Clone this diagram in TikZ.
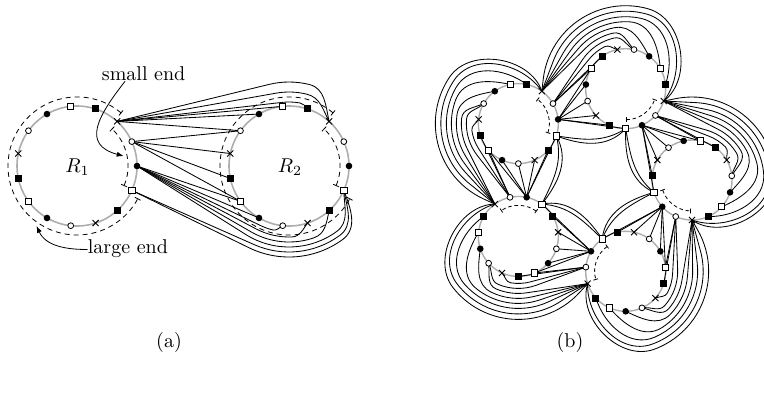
\documentclass[tikz,border=0pt]{standalone}
\usetikzlibrary{arrows.meta,shapes.misc}
\newcommand\setupcircle[5]{%
  \foreach \kk in {0,...,14}{%
    \pgfmathsetmacro\mx{#2+#5*cos(#4+24*\kk)}%
    \pgfmathsetmacro\my{#3+#5*sin(#4+24*\kk)}%
    \coordinate (#1-\kk) at (\mx,\my);%
    \expandafter\xdef\csname px@#1-\kk\endcsname{\mx}%
    \expandafter\xdef\csname py@#1-\kk\endcsname{\my}%
  }}
\newcommand\drawmarkers[1]{%
  \foreach \kk in {0,...,14}{%
    \pgfmathtruncatemacro\ty{mod(\kk,5)}%
    \edef\tmp{\noexpand\node[mk\ty] at (#1-\kk) {};}%
    \tmp
  }}
% #1 Bcx #2 Bcy #3 thetaB #4 Bprefix #5 k #6 src #7 L #8 delta #9 eps ; \ldir = +-1
\newcommand\lane[9]{%
  \pgfmathsetmacro\lb{#3+24*#5}%
  \pgfmathsetmacro\lsx{\csname px@#6\endcsname}%
  \pgfmathsetmacro\lsy{\csname py@#6\endcsname}%
  \pgfmathsetmacro\ldx{\lsx-(#1)}%
  \pgfmathsetmacro\ldy{\lsy-(#2)}%
  \pgfmathsetmacro\ld{veclen(\ldx,\ldy)}%
  \pgfmathsetmacro\lap{atan2(\ldy,\ldx)}%
  \pgfmathsetmacro\lal{\lap+(\ldir)*acos(#7/\ld)}%
  \pgfmathsetmacro\ldf{(\ldir)*((\lb-(\ldir)*(#8))-\lal)}%
  \pgfmathsetmacro\ldf{\ldf-360*floor(\ldf/360)}%
  \pgfmathsetmacro\lgb{\lal+(\ldir)*\ldf}%
  \pgfmathsetmacro\lout{\lgb+(\ldir)*90}%
  \pgfmathsetmacro\lin{\lb-(\ldir)*(#9)}%
  \pgfmathsetmacro\lpx{#1+#7*cos(\lal)}%
  \pgfmathsetmacro\lpy{#2+#7*sin(\lal)}%
  \draw[conn] (#6) -- (\lpx,\lpy) arc[start angle=\lal,end angle=\lgb,radius=#7] to[out=\lout,in=\lin] (#4-#5);%
}
\begin{document}
\begin{tikzpicture}[x=0.5pt,y=0.5pt,
  ring/.style={draw=black!32,line width=0.8pt},
  ringb/.style={draw=black!32,line width=0.7pt},
  dasha/.style={dash pattern=on 2.5pt off 2pt,line width=0.4pt,{Bar[width=3.2pt]}-{Bar[width=3.2pt]}},
  dashb/.style={dash pattern=on 1.8pt off 1.4pt,line width=0.4pt,{Bar[width=2.4pt]}-{Bar[width=2.4pt]}},
  conn/.style={line width=0.42pt},
  mk0/.style={circle,fill=black,inner sep=0pt,minimum size=3.3pt},
  mk1/.style={circle,draw,fill=white,inner sep=0pt,minimum size=2.9pt,line width=0.4pt},
  mk2/.style={cross out,draw,inner sep=0pt,minimum size=2.6pt,line width=0.45pt},
  mk3/.style={rectangle,fill=black,inner sep=0pt,minimum size=3.5pt},
  mk4/.style={rectangle,draw,fill=white,inner sep=0pt,minimum size=3.1pt,line width=0.4pt},
  lbl/.style={inner sep=0pt},
  tip/.style={-{Latex[length=3.4pt,width=2.6pt]}}]
\useasboundingbox (0,0) rectangle (764,393);
% ---------------- (a) ----------------
\setupcircle{ra}{77}{227}{0}{60}
\setupcircle{rb}{289}{227}{0}{60}
\draw[ring] (77,227) circle[radius=60];
\draw[ring] (289,227) circle[radius=60];
\foreach \cx in {77,289}{
  \draw[dasha] ({\cx+69*cos(50)},{227+69*sin(50)}) arc[start angle=50,end angle=332,radius=69];
  \draw[dasha] ({\cx+51*cos(-23)},{227+51*sin(-23)}) arc[start angle=-23,end angle=47,radius=51];
}
\foreach \s/\tg in {2/4,2/5,2/6,1/6,1/7,1/8,1/9,0/9,0/10}{\draw[conn] (ra-\s) -- (rb-\tg);}
\def\ldir{-1}
\lane{289}{227}{0}{rb}{3}{ra-2}{64}{8}{60}
\lane{289}{227}{0}{rb}{2}{ra-2}{74}{28}{70}
\lane{289}{227}{0}{rb}{2}{ra-2}{84}{28}{55}
\def\ldir{1}
\lane{289}{227}{0}{rb}{11}{ra-0}{66}{8.5}{55}
\lane{289}{227}{0}{rb}{12}{ra-0}{71}{15.6}{55}
\lane{289}{227}{0}{rb}{13}{ra-0}{76}{22.7}{55}
\lane{289}{227}{0}{rb}{14}{ra-0}{81}{30}{65}
\lane{289}{227}{0}{rb}{14}{ra-14}{86}{30}{55}
\lane{289}{227}{0}{rb}{14}{ra-14}{91}{30}{45}
% ---------------- (b) ----------------
\foreach \jj in {0,...,4}{
  \pgfmathsetmacro\cx{596+96*cos(72*\jj)}
  \pgfmathsetmacro\cy{213+96*sin(72*\jj)}
  \pgfmathsetmacro\tho{72*\jj+222}
  \pgfmathsetmacro\dsa{\tho-24}
  \pgfmathsetmacro\dsb{\tho+46}
  \setupcircle{P\jj}{\cx}{\cy}{\tho}{40}
  \draw[ringb] (\cx,\cy) circle[radius=40];
  \draw[dashb] ({\cx+31*cos(\dsa)},{\cy+31*sin(\dsa)}) arc[start angle=\dsa,end angle=\dsb,radius=31];
}
\foreach \jj in {0,...,4}{
  \pgfmathtruncatemacro\ja{mod(\jj+1,5)}
  \pgfmathsetmacro\cx{596+96*cos(72*\jj)}
  \pgfmathsetmacro\cy{213+96*sin(72*\jj)}
  \pgfmathsetmacro\tho{72*\jj+222}
  \pgfmathsetmacro\ooa{72*\jj-80}
  \pgfmathsetmacro\iia{72*\jj+140}
  \pgfmathsetmacro\oob{72*\jj-92}
  \pgfmathsetmacro\iib{72*\jj+155}
  \foreach \s/\tg in {0/9,0/10,0/11,0/12,0/13,0/14,1/9,1/8}{\draw[conn] (P\ja-\s) -- (P\jj-\tg);}
  \draw[conn] (P\ja-14) to[out=\ooa,in=\iia] (P\jj-14);
  \draw[conn] (P\ja-14) to[out=\oob,in=\iib] (P\jj-14);
  \def\ldir{-1}
  \lane{\cx}{\cy}{\tho}{P\jj}{7}{P\ja-1}{47}{14.7}{65}
  \lane{\cx}{\cy}{\tho}{P\jj}{6}{P\ja-1}{52}{25}{75}
  \lane{\cx}{\cy}{\tho}{P\jj}{6}{P\ja-2}{57}{25}{55}
  \lane{\cx}{\cy}{\tho}{P\jj}{5}{P\ja-2}{62}{46}{65}
  \lane{\cx}{\cy}{\tho}{P\jj}{4}{P\ja-2}{67}{57}{65}
  \lane{\cx}{\cy}{\tho}{P\jj}{3}{P\ja-2}{72}{72}{65}
  \lane{\cx}{\cy}{\tho}{P\jj}{2}{P\ja-2}{77.5}{92}{70}
  \lane{\cx}{\cy}{\tho}{P\jj}{2}{P\ja-2}{83}{92}{55}
}
% ---------------- markers ----------------
\drawmarkers{ra}
\drawmarkers{rb}
\foreach \jj in {0,...,4}{\drawmarkers{P\jj}}
% ---------------- labels ----------------
\node[lbl] (r1) at (77.5,226) {$R_1$};
\node[lbl] (r2) at (290,226) {$R_2$};
\node[lbl,anchor=base west] (se) at (101.5,312.4) {small end};
\node[lbl,anchor=base west] (le) at (87.5,139.5) {large end};
\coordinate (setip) at (123.5,237);
\coordinate (letip) at (36.5,167);
\draw[tip] ([xshift=11.8pt,yshift=-0.3pt]se.base west) to[out=-128,in=165,looseness=1.5] (setip);
\draw[tip] ([yshift=2pt]le.base west) to[out=180,in=-65] (letip);
\node[lbl] (la) at (169,50.5) {(a)};
\node[lbl] (lb) at (570,50.5) {(b)};
\end{tikzpicture}
\end{document}
